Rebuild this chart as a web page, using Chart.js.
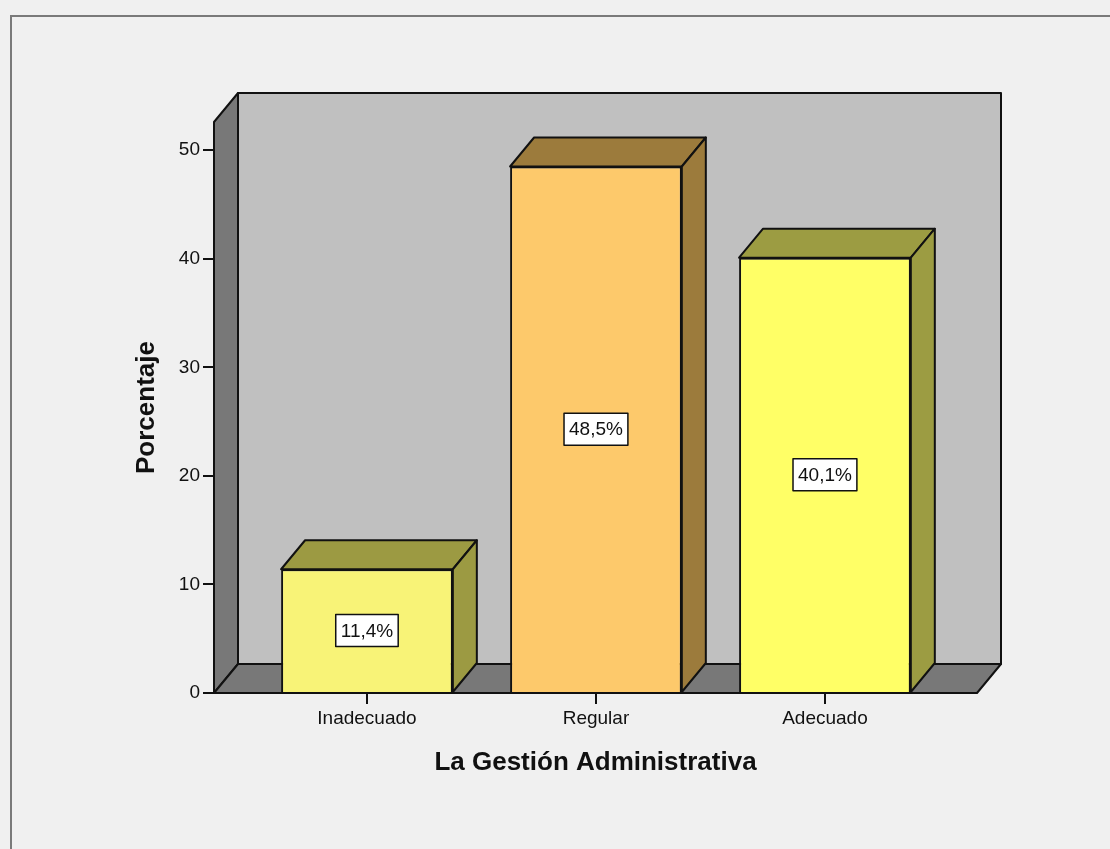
<!DOCTYPE html>
<html>
<head>
<meta charset="utf-8">
<script src="https://cdn.jsdelivr.net/npm/chart.js@4.4.1/dist/chart.umd.min.js"></script>
<style>
  html, body { margin: 0; padding: 0; background: #f0f0f0; overflow: hidden; }
  #frame { position: absolute; left: 10px; top: 15px; width: 1200px; height: 900px;
           border-top: 2px solid #7a7a7a; border-left: 2px solid #7a7a7a; }
  #gestionChart { position: absolute; left: 0; top: 0; }
</style>
</head>
<body>
<div id="frame"></div>
<canvas id="gestionChart" width="1110" height="849"></canvas>
<script>
// data
const categories = ['Inadecuado', 'Regular', 'Adecuado'];
const percentages = [11.4, 48.5, 40.1];
const valueLabels = ['11,4%', '48,5%', '40,1%'];
const yTickValues = [0, 10, 20, 30, 40, 50];

const frontColors = ['#f8f377', '#fdc96b', '#ffff66'];
const shadeColors = ['#9c9a42', '#9c7b3c', '#9c9c42'];

// depth of the fake 3d box
const DX = 24, DY = -29;

function poly(ctx, pts, fill) {
  ctx.beginPath();
  ctx.moveTo(pts[0][0], pts[0][1]);
  for (let i = 1; i < pts.length; i++) ctx.lineTo(pts[i][0], pts[i][1]);
  ctx.closePath();
  ctx.fillStyle = fill;
  ctx.fill();
  ctx.stroke();
}

// walls and floor behind the bars, plus top/side faces and value boxes
const walls3d = {
  id: 'walls3d',
  beforeDatasetsDraw(chart) {
    const { ctx, chartArea: a } = chart;
    ctx.save();
    ctx.lineWidth = 2;
    ctx.strokeStyle = '#111';
    ctx.lineJoin = 'round';
    // back wall
    poly(ctx, [[a.left + DX, a.top + DY], [a.right + DX, a.top + DY],
               [a.right + DX, a.bottom + DY], [a.left + DX, a.bottom + DY]], '#c0c0c0');
    // left wall
    poly(ctx, [[a.left, a.bottom], [a.left, a.top], [a.left + DX, a.top + DY],
               [a.left + DX, a.bottom + DY]], '#787878');
    // floor
    poly(ctx, [[a.left, a.bottom], [a.right, a.bottom], [a.right + DX, a.bottom + DY],
               [a.left + DX, a.bottom + DY]], '#787878');
    ctx.restore();
  },
  afterDatasetsDraw(chart) {
    const { ctx } = chart;
    const meta = chart.getDatasetMeta(0);
    ctx.save();
    ctx.lineWidth = 2;
    ctx.strokeStyle = '#111';
    ctx.lineJoin = 'round';
    meta.data.forEach((bar, i) => {
      const x0 = bar.x - bar.width / 2, x1 = bar.x + bar.width / 2;
      const top = bar.y, base = bar.base;
      poly(ctx, [[x0, top], [x0 + DX, top + DY], [x1 + DX, top + DY], [x1, top]], shadeColors[i]);
      poly(ctx, [[x1, top], [x1 + DX, top + DY], [x1 + DX, base + DY], [x1, base]], shadeColors[i]);
    });
    ctx.font = '19px "Liberation Sans", Arial, sans-serif';
    ctx.textAlign = 'center';
    ctx.textBaseline = 'middle';
    meta.data.forEach((bar, i) => {
      const cy = (bar.y + bar.base) / 2;
      const w = ctx.measureText(valueLabels[i]).width + 10;
      const h = 32;
      ctx.fillStyle = '#fff';
      ctx.fillRect(bar.x - w / 2, cy - h / 2, w, h);
      ctx.lineWidth = 1.5;
      ctx.strokeRect(bar.x - w / 2, cy - h / 2, w, h);
      ctx.fillStyle = '#111';
      ctx.fillText(valueLabels[i], bar.x, cy + 1);
    });
    ctx.restore();
  }
};

const ctx = document.getElementById('gestionChart').getContext('2d');
const gestionChart = new Chart(ctx, {
  type: 'bar',
  data: {
    datasets: [{
      data: percentages.map((v, i) => ({ x: i, y: v })),
      backgroundColor: frontColors,
      borderColor: '#111',
      borderWidth: 2,
      categoryPercentage: 1,
      barPercentage: 0.75
    }]
  },
  options: {
    responsive: false,
    animation: false,
    layout: { padding: { top: 122, right: 133, left: 0, bottom: 0 } },
    plugins: { legend: { display: false }, tooltip: { enabled: false } },
    scales: {
      x: {
        type: 'linear',
        offset: false,
        min: -0.668,
        max: 2.664,
        afterBuildTicks: s => { s.ticks = categories.map((c, i) => ({ value: i })); },
        afterFit: s => { s.height = 156; },
        ticks: {
          callback: v => categories[v],
          color: '#111',
          padding: 3,
          maxRotation: 0,
          autoSkip: false,
          font: { family: '"Liberation Sans", Arial, sans-serif', size: 19 }
        },
        grid: { offset: false, drawOnChartArea: false, tickLength: 11, color: '#111', lineWidth: 2 },
        border: { display: false },
        title: {
          display: true,
          text: 'La Gestión Administrativa',
          color: '#111',
          padding: { top: 0, bottom: 71 },
          font: { family: '"Liberation Sans", Arial, sans-serif', size: 26, weight: 'bold' }
        }
      },
      y: {
        min: 0,
        max: 52.6,
        afterBuildTicks: s => { s.ticks = yTickValues.map(v => ({ value: v })); },
        afterFit: s => { s.width = 214; },
        ticks: {
          color: '#111',
          padding: 3,
          font: { family: '"Liberation Sans", Arial, sans-serif', size: 19 }
        },
        grid: { drawOnChartArea: false, tickLength: 11, color: '#111', lineWidth: 2 },
        border: { display: false },
        title: {
          display: true,
          text: 'Porcentaje',
          color: '#111',
          padding: { top: 131, bottom: 0 },
          font: { family: '"Liberation Sans", Arial, sans-serif', size: 26, weight: 'bold' }
        }
      }
    }
  },
  plugins: [walls3d]
});
</script>
</body>
</html>
